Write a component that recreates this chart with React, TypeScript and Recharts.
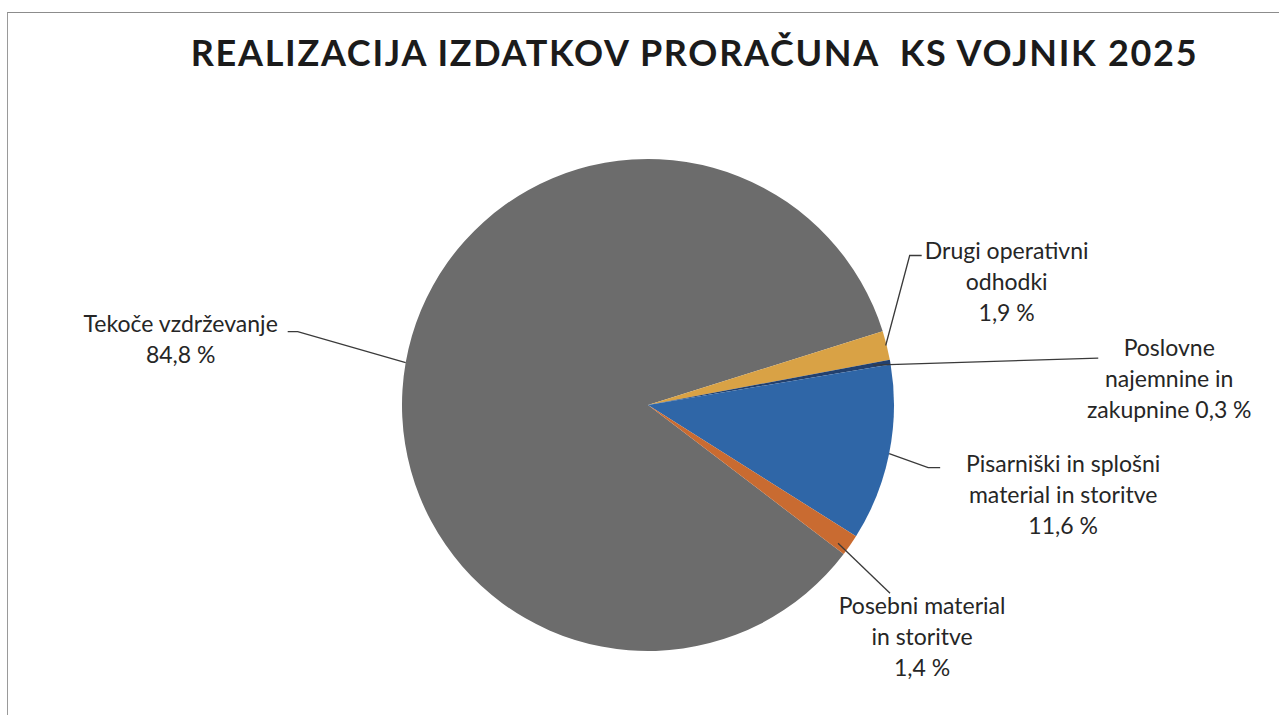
import React from 'react';
import { PieChart, Pie, Cell } from 'recharts';

const categories = [
  'Tekoče vzdrževanje',
  'Drugi operativni odhodki',
  'Poslovne najemnine in zakupnine',
  'Pisarniški in splošni material in storitve',
  'Posebni material in storitve',
];
const shares = [84.8, 1.9, 0.3, 11.6, 1.4];
const labelTexts = [
  ['Tekoče vzdrževanje', '84,8 %'],
  ['Drugi operativni', 'odhodki', '1,9 %'],
  ['Poslovne', 'najemnine in', 'zakupnine 0,3 %'],
  ['Pisarniški in splošni', 'material in storitve', '11,6 %'],
  ['Posebni material', 'in storitve', '1,4 %'],
];
const title = 'REALIZACIJA IZDATKOV PRORAČUNA  KS VOJNIK 2025';

const colors = ['#6c6c6c', '#d9a245', '#22406e', '#2f66a7', '#c96b31'];

// label layout offsets relative to the slice's outer edge at its mid angle
const labelLayout = [
  { start: [0, 0], path: [[-108, -31], [-118, -31]], text: [-225, -40] },
  { start: [-1, 0], path: [[23, -90], [35, -90]], text: [120, -95] },
  { start: [-17, 3], path: [[208, -4]], text: [279, -15] },
  { start: [0, 0], path: [[39, 14], [51, 14]], text: [174, 9] },
  { start: [-12, -2], path: [[40, 48]], text: [72, 60] },
];

const data = categories.map((name, i) => ({ name, value: shares[i] }));

const RAD = Math.PI / 180;
const FONT = 'Lato, "Open Sans", sans-serif';

const renderLabel = (props: any) => {
  const { cx, cy, midAngle, outerRadius, index } = props;
  const ax = cx + outerRadius * Math.cos(-midAngle * RAD);
  const ay = cy + outerRadius * Math.sin(-midAngle * RAD);
  const lay = labelLayout[index];
  const sx = ax + lay.start[0];
  const sy = ay + lay.start[1];
  const pts = [[sx, sy], ...lay.path.map((p) => [ax + p[0], ay + p[1]])];
  const d = pts.map((p, k) => `${k === 0 ? 'M' : 'L'}${p[0]},${p[1]}`).join(' ');
  const tx = ax + lay.text[0];
  const ty = ay + lay.text[1];
  return (
    <g key={`lbl-${index}`}>
      <path d={d} stroke="#3a3a3a" strokeWidth={1.3} fill="none" />
      {labelTexts[index].map((t, k) => (
        <text
          key={k}
          x={tx}
          y={ty + k * 31}
          textAnchor="middle"
          dominantBaseline="central"
          fontFamily={FONT}
          fontSize={23}
          fill="#262626"
        >
          {t}
        </text>
      ))}
    </g>
  );
};

export default function App() {
  return (
    <div style={{ position: 'absolute', left: 0, top: 0, width: 1279, height: 715, background: '#fff', overflow: 'hidden' }}>
      <div
        style={{
          position: 'absolute',
          left: 7,
          top: 12,
          width: 1272,
          height: 703,
          borderTop: '1.5px solid #8c8c8c',
          borderLeft: '1.5px solid #9a9a9a',
          boxSizing: 'border-box',
        }}
      />
      <div
        style={{
          position: 'absolute',
          left: 0,
          top: 30,
          width: 1389,
          height: 44,
          lineHeight: '44px',
          textAlign: 'center',
          fontFamily: FONT,
          fontWeight: 700,
          fontSize: 36,
          letterSpacing: '1.7px',
          color: '#1b1b1b',
          whiteSpace: 'pre',
        }}
      >
        {title}
      </div>
      <div style={{ position: 'absolute', left: 0, top: 0 }}>
        <PieChart width={1279} height={715} margin={{ top: 0, right: 0, bottom: 0, left: 0 }}>
          <Pie
            data={data}
            dataKey="value"
            nameKey="name"
            cx={648}
            cy={405}
            outerRadius={246}
            startAngle={-37.3}
            endAngle={-397.3}
            stroke="none"
            label={renderLabel}
            labelLine={false}
            isAnimationActive={false}
          >
            {data.map((d, i) => (
              <Cell key={d.name} fill={colors[i]} stroke="none" />
            ))}
          </Pie>
        </PieChart>
      </div>
    </div>
  );
}
